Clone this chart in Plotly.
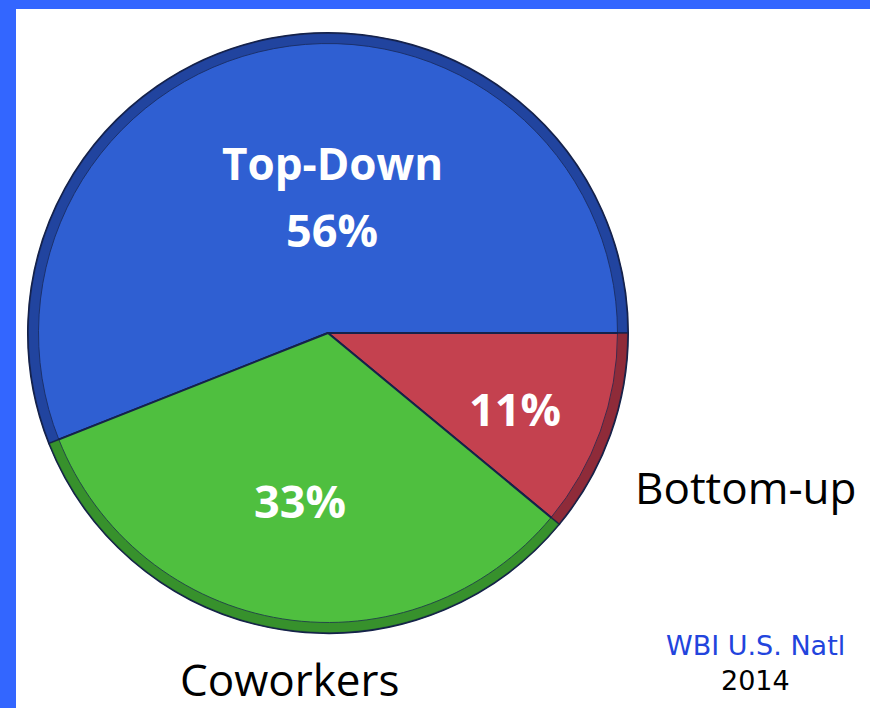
import plotly.graph_objects as go

labels = ["Top-Down", "Bottom-up", "Coworkers"]
values = [56, 11, 33]
colors = ["#2f5fd2", "#c4414f", "#4fbf3f"]
rim_colors = ["#1d3b8f", "#7e2432", "#2f8226"]

W, H = 870, 708

def px(x):
    return x / W

def py(y):
    return 1 - y / H

dom = dict(x=[px(28), px(628)], y=[py(634), py(32)])
start = 90 - 360 * values[0] / 100.0  # Top-Down ends at 3 o'clock

fig = go.Figure()
fig.add_trace(go.Pie(
    labels=labels, values=values, sort=False,
    direction="clockwise", rotation=start,
    textinfo="none", hoverinfo="label+percent",
    marker=dict(colors=colors, line=dict(color="#15224a", width=2)),
    domain=dom, showlegend=False,
))
fig.add_trace(go.Pie(
    labels=labels, values=values, sort=False, hole=0.965,
    direction="clockwise", rotation=start,
    textinfo="none", hoverinfo="skip",
    marker=dict(colors=rim_colors, line=dict(color="#15224a", width=1)),
    domain=dom, showlegend=False, opacity=0.75,
))

bold_white = dict(family="Open Sans", size=44, color="white")
pct_font = dict(family="Open Sans", size=45, color="white")
anns = [
    dict(x=px(332), y=py(163), text="<b>Top-Down</b>", font=bold_white),
    dict(x=px(332), y=py(229), text="<b>%d%%</b>" % values[0], font=pct_font),
    dict(x=px(515), y=py(408), text="<b>%d%%</b>" % values[1], font=pct_font),
    dict(x=px(300), y=py(500), text="<b>%d%%</b>" % values[2], font=pct_font),
    dict(x=px(746), y=py(487), text=labels[1], font=dict(family="Open Sans", size=44, color="black")),
    dict(x=px(290), y=py(679), text=labels[2], font=dict(family="Open Sans", size=44, color="black")),
    dict(x=px(755), y=py(645), text="WBI U.S. Natl", font=dict(family="DejaVu Sans", size=27, color="#2244dd")),
    dict(x=px(755), y=py(680), text="2014", font=dict(family="DejaVu Sans", size=27, color="black")),
]
for a in anns:
    a.update(xref="paper", yref="paper", showarrow=False, xanchor="center", yanchor="middle")

fig.update_layout(
    width=W, height=H,
    margin=dict(l=0, r=0, t=0, b=0),
    paper_bgcolor="white",
    plot_bgcolor="white",
    annotations=anns,
    shapes=[
        dict(type="rect", xref="paper", yref="paper", x0=0, x1=px(16), y0=0, y1=1,
             fillcolor="#3366ff", line=dict(width=0), layer="above"),
        dict(type="rect", xref="paper", yref="paper", x0=0, x1=1, y0=py(9), y1=1,
             fillcolor="#3366ff", line=dict(width=0), layer="above"),
    ],
)

fig.write_html("out.html", config={"displayModeBar": False},
               post_script="document.body.style.margin='0';document.body.style.overflow='hidden';")
